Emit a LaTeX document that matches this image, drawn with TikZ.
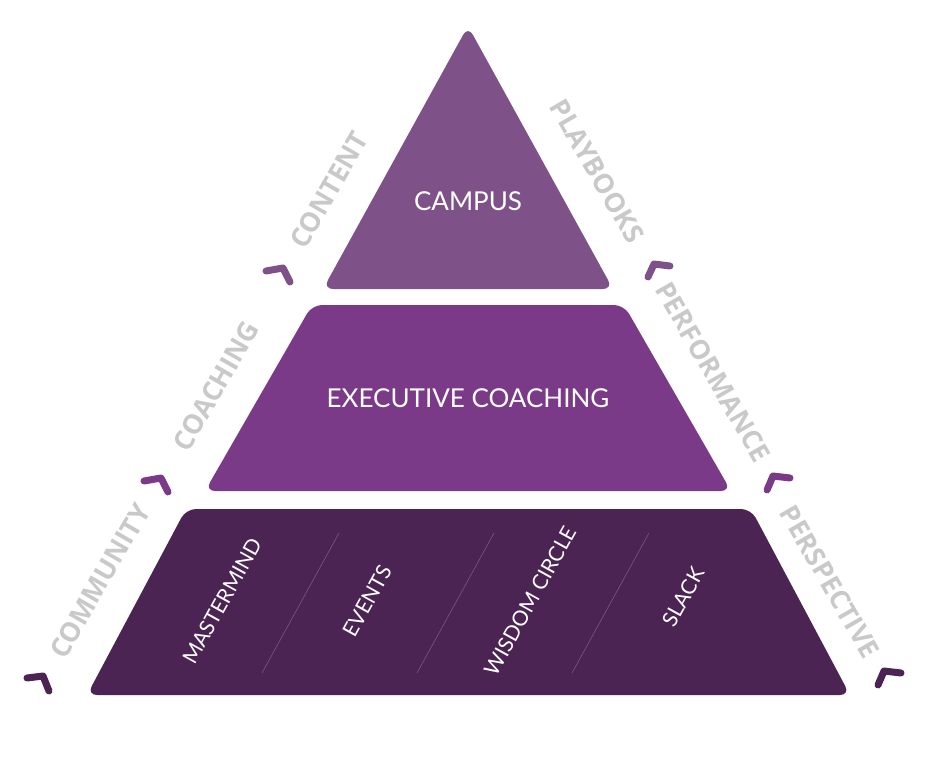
\documentclass[tikz,border=0pt]{standalone}
\usepackage{fontspec}
\setmainfont{Lato}
\newfontfamily\heavyfont{Open Sans}
\definecolor{ptop}{HTML}{7E5289}
\definecolor{pmid}{HTML}{7B3A87}
\definecolor{pbot}{HTML}{4B2454}
\definecolor{sidegray}{HTML}{C9C9C9}
\definecolor{divline}{HTML}{7A5585}
\tikzset{
  tier/.style={rounded corners=10pt},
  mainlbl/.style={text=white, font=\fontsize{26}{30}\selectfont},
  sublbl/.style={text=white, font=\fontsize{21}{25}\selectfont, rotate=61},
  sidelbl/.style={text=sidegray, font=\heavyfont\bfseries\fontsize{27}{32}\selectfont},
  chev/.style={line width=7pt, line cap=round, line join=round},
  divider/.style={draw=divline, line width=0.6pt}
}
\begin{document}
\begin{tikzpicture}[x=1pt,y=-1pt]
\useasboundingbox (0,0) rectangle (928,768);
% tiers
\fill[ptop, tier] (468,26) -- (613,289) -- (323,289) -- cycle;
\fill[pmid, tier] (312,305) -- (624,305) -- (731,491) -- (205,491) -- cycle;
\fill[pbot, tier] (186,509) -- (751,509) -- (850,695) -- (87,695) -- cycle;
% dividers
\draw[divider] (262,673) -- (339,533);
\draw[divider] (417,673) -- (494,533);
\draw[divider] (572,673) -- (649,533);
% main labels
\node[mainlbl] (campus) at (468,201) {CAMPUS};
\node[mainlbl] (exec) at (468,398) {EXECUTIVE COACHING};
\node[sublbl] (mastermind) at (222,601) {MASTERMIND};
\node[sublbl] (events) at (367,601) {EVENTS};
\node[sublbl] (wisdom) at (530,601) {WISDOM CIRCLE};
\node[sublbl] (slack) at (683,597) {SLACK};
% side labels
\node[sidelbl, rotate=60] (content) at (329,190) {CONTENT};
\node[sidelbl, rotate=60] (coaching) at (216,386) {COACHING};
\node[sidelbl, rotate=60] (community) at (100,581) {COMMUNITY};
\node[sidelbl, rotate=-60] (playbooks) at (597,171) {PLAYBOOKS};
\node[sidelbl, rotate=-60] (performance) at (713,372) {PERFORMANCE};
\node[sidelbl, rotate=-60] (perspective) at (830,582) {PERSPECTIVE};
% chevrons
\draw[chev, ptop] (266,271) -- (283,268) -- (290,282);
\draw[chev, ptop] (648,277) -- (654,264) -- (670,266);
\draw[chev, pmid] (144,481) -- (161,478) -- (168,492);
\draw[chev, pmid] (767,490) -- (773,476) -- (790,478);
\draw[chev, pbot] (27,678) -- (43,676) -- (49,691);
\draw[chev, pbot] (878,685) -- (884,671) -- (901,673);
\end{tikzpicture}
\end{document}
